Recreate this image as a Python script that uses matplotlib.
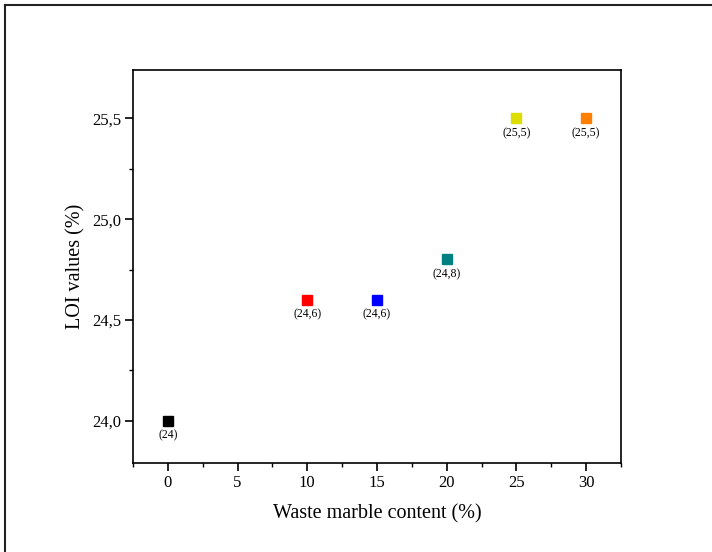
import matplotlib
matplotlib.use("Agg")
import matplotlib.pyplot as plt
from matplotlib.lines import Line2D
from matplotlib.ticker import MultipleLocator, FuncFormatter

plt.rcParams["font.family"] = ["Liberation Serif", "DejaVu Serif"]

# data
marble = [0, 10, 15, 20, 25, 30]
loi = [24.0, 24.6, 24.6, 24.8, 25.5, 25.5]
point_labels = ["(24)", "(24,6)", "(24,6)", "(24,8)", "(25,5)", "(25,5)"]
colors = ["#000000", "#ff0000", "#0000ff", "#008080", "#dddd00", "#ff8000"]

fig = plt.figure(figsize=(7.12, 5.52), dpi=100)
ax = fig.add_axes([0.1868, 0.1612, 0.6854, 0.712])

# outer frame lines (top and left edges of the picture)
fig.add_artist(Line2D([0.007, 0.007], [0.0, 0.991], transform=fig.transFigure,
                      color="#222222", lw=1.5))
fig.add_artist(Line2D([0.007, 1.0], [0.991, 0.991], transform=fig.transFigure,
                      color="#222222", lw=1.5))

for x, y, lab, c in zip(marble, loi, point_labels, colors):
    ax.plot(x, y, marker="s", ms=6.5, color=c, linestyle="none")
    ax.annotate(lab, (x, y), xytext=(0, -6.5), textcoords="offset points",
                ha="center", va="top", fontsize=8.5)

ax.set_xlim(-2.5, 32.5)
ax.set_ylim(23.79, 25.74)
ax.xaxis.set_major_locator(MultipleLocator(5))
ax.xaxis.set_minor_locator(MultipleLocator(2.5))
ax.yaxis.set_major_locator(MultipleLocator(0.5))
ax.yaxis.set_minor_locator(MultipleLocator(0.25))
ax.yaxis.set_major_formatter(FuncFormatter(lambda v, p: f"{v:.1f}".replace(".", ",")))
ax.tick_params(which="major", direction="out", length=5.5, width=1.2,
               labelsize=12, pad=3)
ax.tick_params(which="minor", direction="out", length=3, width=1.0)
for s in ax.spines.values():
    s.set_linewidth(1.2)

ax.set_xlabel("Waste marble content (%)", fontsize=14.5, labelpad=10)
ax.set_ylabel("LOI values (%)", fontsize=14.5, labelpad=5)

fig.savefig("out.png", dpi=100)
